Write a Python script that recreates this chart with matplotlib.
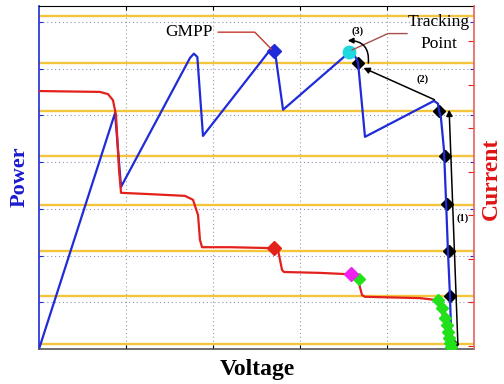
"""P-V / I-V sketch with tracking steps (1)-(3) towards the GMPP."""
import matplotlib

matplotlib.use("Agg")
import matplotlib.pyplot as plt
import numpy as np
from matplotlib.patches import FancyArrowPatch

plt.rcParams["font.family"] = ["Liberation Serif", "DejaVu Serif"]

BLUE = "#1f2bd8"
RED = "#e3201b"
YELLOW = "#f2c53d"
GREEN = "#22e01a"

# power curve (voltage in grid units, power in grid units)
pv_v = [0.0, 0.874, 0.943, 1.736, 1.78, 1.82, 1.885, 2.678, 2.713, 2.805, 3.598, 3.667,
        3.747, 4.54, 4.586, 4.598, 4.62, 4.655, 4.678, 4.70, 4.724, 4.736, 4.759]
pv_p = [0.0, 5.05, 3.47, 6.23, 6.32, 6.25, 4.56, 6.45, 6.36, 5.12, 6.40, 6.13,
        4.54, 5.31, 5.25, 5.10, 4.95, 4.26, 3.19, 2.12, 1.13, 0.41, 0.0]

# current curve
iv_v = [0.0, 0.70, 0.793, 0.85, 0.885, 0.92, 0.943, 1.276, 1.678, 1.77, 1.828, 1.85, 1.874,
        2.195, 2.655, 2.747, 2.793, 2.816, 3.23, 3.55, 3.667, 3.713, 3.747, 4.38, 4.55,
        4.61, 4.655, 4.69, 4.724]
iv_i = [5.93, 5.91, 5.86, 5.72, 5.38, 4.11, 3.59, 3.56, 3.52, 3.43, 3.08, 2.51, 2.34,
        2.34, 2.32, 2.28, 1.82, 1.77, 1.75, 1.72, 1.59, 1.24, 1.20, 1.17, 1.13,
        1.01, 0.67, 0.32, 0.02]

# yellow power levels and the black tracking samples on them
levels = [0.10, 1.13, 2.10, 3.09, 4.13, 5.10, 6.13, 7.12]
step_v = [4.598, 4.667, 4.69, 4.713, 4.724, 4.747, 3.667]
step_p = [5.10, 4.13, 3.10, 2.10, 1.13, 0.10, 6.13]

gmpp_v, gmpp_p, gmpp_i = 2.70, 6.38, 2.32
track_v, track_p = 3.563, 6.36
track_iv_v, track_iv_i = 3.586, 1.72
green_v = [3.678, 4.586, 4.632, 4.667, 4.69, 4.70, 4.713, 4.725, 4.736]
green_i = [1.61, 1.13, 0.94, 0.71, 0.55, 0.39, 0.25, 0.13, 0.05]

fig = plt.figure(figsize=(5.04, 3.84), dpi=100)
ax = fig.add_axes([39 / 504, 35 / 384, 435 / 504, 343 / 384])
ax2 = ax.twinx()

ax.set_xlim(0, 5)
ax.set_ylim(0, 7.34)
ax2.set_ylim(0, 7.885)

for v in range(1, 5):
    ax.axvline(v, color="#9a9a9a", lw=0.8, ls=(0, (1, 2.5)), zorder=0)
for p in range(1, 8):
    ax.axhline(p, color="#8f95b8", lw=0.8, ls=(0, (1, 2.5)), zorder=0)
for lv in levels:
    ax.axhline(lv, color=YELLOW, lw=1.7, zorder=1)

ax.plot(pv_v, pv_p, color=BLUE, lw=1.6, zorder=2)
ax.plot(step_v, step_p, ls="none", marker="D", ms=6.5, color="black", zorder=1)
ax.plot(gmpp_v, gmpp_p, marker="D", ms=7.5, color=BLUE, zorder=4)
ax.plot(track_v, track_p, marker="o", ms=9, color="#20d8e0", zorder=4)

# tracking moves
ax.add_patch(FancyArrowPatch((4.816, 0.04), (4.713, 5.18), arrowstyle="-|>",
                             mutation_scale=9, color="black", lw=1.1, zorder=5))
ax.add_patch(FancyArrowPatch((4.575, 5.31), (3.70, 6.04), arrowstyle="-|>",
                             mutation_scale=9, color="black", lw=1.1, zorder=5))
ax.add_patch(FancyArrowPatch((3.782, 6.06), (3.517, 6.60), arrowstyle="-|>",
                             connectionstyle="arc3,rad=0.6", mutation_scale=8,
                             color="black", lw=1.1, zorder=5))
ax.text(4.874, 2.80, "(1)", fontsize=7.5, fontweight="bold", ha="center", va="center")
ax.text(4.414, 5.78, "(2)", fontsize=7.5, fontweight="bold", ha="center", va="center")
ax.text(3.667, 6.81, "(3)", fontsize=7.5, fontweight="bold", ha="center", va="center")

ax.text(1.72, 6.78, "GMPP", fontsize=12.5, ha="center", va="center")
ax.plot([2.06, 2.48, 2.67], [6.78, 6.78, 6.42], color="#c23a30", lw=1.0, zorder=4)
ax.text(4.60, 6.99, "Tracking", fontsize=12.5, ha="center", va="center")
ax.text(4.595, 6.53, "Point", fontsize=12.5, ha="center", va="center")
ax.plot([4.23, 4.01, 3.60], [6.75, 6.75, 6.40], color="#a5504a", lw=1.0, zorder=4)

ax2.plot(iv_v, iv_i, color=RED, lw=1.6, zorder=2)
ax2.plot(gmpp_v, gmpp_i, marker="D", ms=7.5, color=RED, zorder=3)
ax2.plot(green_v, green_i, ls="none", marker="D", ms=6, color=GREEN, zorder=3)
ax2.plot(track_iv_v, track_iv_i, marker="D", ms=7.5, color="#ee22ee", zorder=4)

ax.set_xticks(range(1, 5))
ax.set_yticks(range(1, 8))
ax.tick_params(axis="x", direction="in", length=3, top=True, labelbottom=False)
ax.tick_params(axis="y", direction="in", length=3, left=True, right=True,
               labelleft=False, color=BLUE)
ax2.set_yticks(np.arange(0.08, 7.8, 1.0))
ax2.tick_params(axis="y", direction="in", length=4, color=RED, labelright=False)

ax.spines["left"].set_color(BLUE)
ax.spines["left"].set_linewidth(1.2)
ax.spines["right"].set_visible(False)
ax.spines["bottom"].set_color("#555555")
ax.spines["bottom"].set_linewidth(1.2)
for side in ("left", "top", "bottom"):
    ax2.spines[side].set_visible(False)
ax2.spines["right"].set_color("#e86060")
ax2.spines["right"].set_linewidth(1.2)

fig.text(20 / 504, 1 - 177 / 384, "Power", rotation=90, fontsize=16, fontweight="bold",
         color="#1a1ad0", ha="center", va="center")
fig.text(491 / 504, 1 - 179 / 384, "Current", rotation=90, fontsize=17, fontweight="bold",
         color="#e01414", ha="center", va="center")
fig.text(257 / 504, 1 - 370 / 384, "Voltage", fontsize=17, fontweight="bold",
         color="black", ha="center", va="center")

fig.savefig("out.png", dpi=100)
